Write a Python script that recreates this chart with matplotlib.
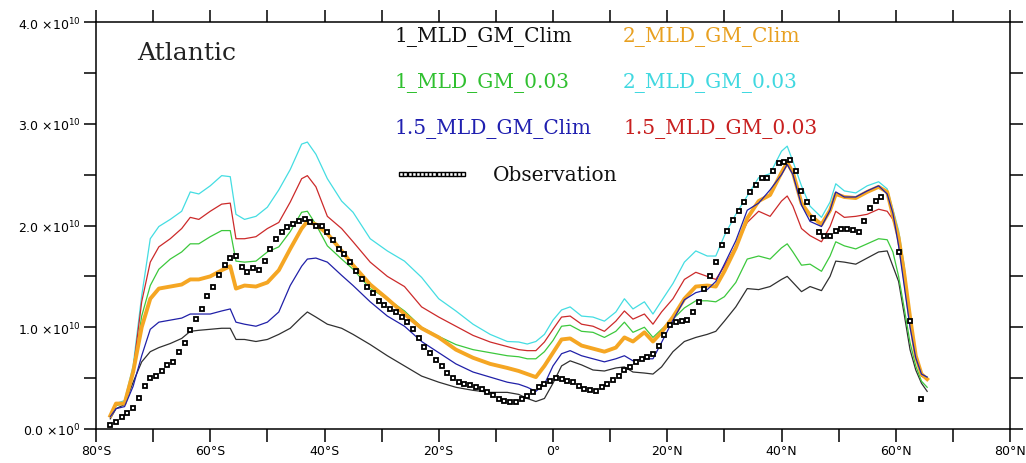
import numpy as np
import matplotlib
matplotlib.use('Agg')
import matplotlib.pyplot as plt

# --- data (values in units of 1e10) --- #

lat = [-77.5, -76.5, -75, -73.5, -72, -70.5, -69, -67, -65, -63.5,
       -62, -60, -58, -56.5, -55.5, -54, -52, -50, -48, -46,
       -44, -43, -41.5, -39.5, -37, -35, -32, -29, -26, -23,
       -20, -17, -14, -11, -8, -6, -4.5, -3, -1.5, 0,
       1.5, 3, 5, 7, 9, 11, 12.5, 14, 16, 17.5,
       19, 21, 23, 25, 27, 28.5, 30, 32, 34, 36,
       38, 40, 41, 42, 43.5, 45, 47, 48.5, 49.5, 51,
       53, 55, 57, 58.5, 59.5, 60.5, 61.5, 62.5, 63.5, 64.5,
       65.5]

mld1_clim = [0.10, 0.20, 0.24, 0.46, 0.66, 0.76, 0.80, 0.84, 0.89, 0.96,
             0.97, 0.98, 0.99, 0.99, 0.88, 0.88, 0.86, 0.88, 0.93, 0.99,
             1.10, 1.15, 1.10, 1.03, 0.99, 0.93, 0.83, 0.72, 0.62, 0.52,
             0.46, 0.41, 0.38, 0.36, 0.36, 0.34, 0.30, 0.27, 0.30, 0.45,
             0.62, 0.67, 0.63, 0.58, 0.57, 0.60, 0.61, 0.56, 0.55, 0.54,
             0.61, 0.76, 0.86, 0.90, 0.93, 0.96, 1.06, 1.20, 1.38, 1.37,
             1.40, 1.47, 1.50, 1.44, 1.35, 1.40, 1.36, 1.50, 1.65, 1.64,
             1.62, 1.68, 1.74, 1.75, 1.60, 1.45, 1.12, 0.78, 0.58, 0.45,
             0.37]

mld2_clim = [0.13, 0.25, 0.25, 0.56, 1.00, 1.28, 1.38, 1.40, 1.42, 1.47,
             1.47, 1.50, 1.56, 1.60, 1.38, 1.41, 1.40, 1.44, 1.56, 1.77,
             1.97, 2.04, 2.01, 1.92, 1.75, 1.61, 1.42, 1.28, 1.13, 0.99,
             0.90, 0.78, 0.70, 0.64, 0.60, 0.57, 0.54, 0.51, 0.62, 0.75,
             0.88, 0.89, 0.82, 0.79, 0.76, 0.80, 0.90, 0.86, 0.95, 0.86,
             0.95, 1.10, 1.28, 1.40, 1.41, 1.40, 1.55, 1.78, 2.07, 2.24,
             2.30, 2.52, 2.62, 2.52, 2.22, 2.10, 2.01, 2.15, 2.31, 2.28,
             2.27, 2.33, 2.38, 2.33, 2.10, 1.88, 1.52, 1.10, 0.72, 0.54,
             0.49]

mld1_003 = [0.13, 0.23, 0.25, 0.55, 1.11, 1.41, 1.57, 1.67, 1.74, 1.82,
            1.82, 1.89, 1.95, 1.95, 1.65, 1.64, 1.65, 1.74, 1.79, 1.94,
            2.13, 2.14, 2.01, 1.80, 1.67, 1.57, 1.38, 1.28, 1.16, 1.00,
            0.91, 0.83, 0.78, 0.75, 0.72, 0.71, 0.69, 0.69, 0.76, 0.87,
            1.01, 1.02, 0.96, 0.95, 0.90, 0.96, 1.05, 0.95, 1.00, 0.90,
            0.98, 1.08, 1.19, 1.26, 1.26, 1.25, 1.30, 1.44, 1.67, 1.70,
            1.67, 1.78, 1.82, 1.74, 1.61, 1.62, 1.55, 1.70, 1.84, 1.80,
            1.77, 1.82, 1.87, 1.86, 1.74, 1.50, 1.18, 0.85, 0.62, 0.47,
            0.41]

mld2_003 = [0.13, 0.25, 0.28, 0.62, 1.31, 1.87, 1.99, 2.06, 2.14, 2.33,
            2.31, 2.39, 2.49, 2.48, 2.11, 2.06, 2.09, 2.18, 2.35, 2.55,
            2.80, 2.82, 2.70, 2.46, 2.24, 2.13, 1.87, 1.75, 1.65, 1.49,
            1.28, 1.16, 1.03, 0.93, 0.86, 0.855, 0.835, 0.86, 0.93, 1.07,
            1.17, 1.20, 1.11, 1.10, 1.06, 1.15, 1.28, 1.18, 1.25, 1.13,
            1.26, 1.43, 1.64, 1.75, 1.70, 1.70, 1.90, 2.11, 2.29, 2.47,
            2.51, 2.73, 2.78, 2.63, 2.39, 2.19, 2.08, 2.23, 2.41, 2.34,
            2.32, 2.39, 2.43, 2.36, 2.16, 1.95, 1.60, 1.08, 0.72, 0.54,
            0.51]

mld15_clim = [0.12, 0.20, 0.22, 0.42, 0.72, 0.98, 1.05, 1.07, 1.09, 1.13,
              1.13, 1.13, 1.16, 1.18, 1.05, 1.03, 1.01, 1.05, 1.15, 1.41,
              1.60, 1.67, 1.68, 1.64, 1.51, 1.41, 1.25, 1.11, 1.01, 0.86,
              0.75, 0.64, 0.56, 0.51, 0.46, 0.44, 0.41, 0.37, 0.44, 0.62,
              0.74, 0.77, 0.72, 0.69, 0.66, 0.69, 0.72, 0.67, 0.69, 0.69,
              0.85, 1.07, 1.27, 1.34, 1.37, 1.45, 1.62, 1.85, 2.15, 2.22,
              2.35, 2.50, 2.60, 2.50, 2.20, 2.04, 1.99, 2.15, 2.33, 2.28,
              2.28, 2.34, 2.39, 2.31, 2.12, 1.80, 1.40, 1.00, 0.70, 0.54,
              0.51]

mld15_003 = [0.13, 0.24, 0.25, 0.58, 1.25, 1.64, 1.79, 1.87, 1.97, 2.08,
             2.06, 2.14, 2.21, 2.22, 1.87, 1.87, 1.89, 1.97, 2.03, 2.23,
             2.46, 2.49, 2.38, 2.09, 1.97, 1.84, 1.64, 1.50, 1.40, 1.20,
             1.10, 1.01, 0.92, 0.855, 0.81, 0.78, 0.77, 0.77, 0.855, 0.98,
             1.10, 1.11, 1.03, 1.01, 0.96, 1.06, 1.16, 1.08, 1.13, 1.03,
             1.15, 1.28, 1.47, 1.54, 1.50, 1.47, 1.60, 1.80, 2.03, 2.14,
             2.09, 2.24, 2.29, 2.19, 1.97, 1.90, 1.84, 1.99, 2.14, 2.08,
             2.09, 2.11, 2.16, 2.14, 2.06, 1.90, 1.57, 1.08, 0.72, 0.52,
             0.49]

# observations, one value per degree from 77.5S to 64.5N
obs_lat = np.arange(-77.5, 65.0, 1.0)
nan = np.nan
obs = [0.04, 0.07, 0.12, 0.16, 0.21, 0.30, 0.42, 0.50, 0.52, 0.57,
       0.63, 0.66, 0.76, 0.85, 0.97, 1.08, 1.18, 1.31, 1.40, 1.51,
       1.61, 1.68, 1.70, 1.59, 1.54, 1.58, 1.56, 1.65, 1.77, 1.87,
       1.94, 1.99, 2.01, 2.04, 2.06, 2.03, 2.00, 2.00, 1.94, 1.86,
       1.77, 1.72, 1.64, 1.55, 1.47, 1.40, 1.34, 1.26, 1.22, 1.18,
       1.15, 1.10, 1.05, 0.98, 0.89, 0.81, 0.75, 0.68, 0.62, 0.55,
       0.50, 0.46, 0.44, 0.43, 0.41, 0.39, 0.36, 0.33, 0.29, 0.28,
       0.27, 0.27, 0.29, 0.32, 0.36, 0.41, 0.44, 0.47, 0.50, 0.49,
       0.47, 0.46, 0.42, 0.39, 0.38, 0.37, 0.41, 0.44, 0.48, 0.52,
       0.58, 0.61, 0.66, 0.69, 0.71, 0.74, 0.82, 0.92, 1.02, 1.05,
       1.06, 1.07, 1.15, 1.25, 1.38, 1.50, 1.64, 1.81, 1.95, 2.05,
       2.14, 2.23, 2.33, 2.40, 2.47, 2.47, 2.54, 2.61, 2.62, 2.64,
       2.54, 2.34, 2.23, 2.07, 1.94, 1.90, 1.90, 1.95, 1.97, 1.97,
       1.96, 1.94, 2.04, 2.17, 2.24, 2.28, nan, nan, 1.74, nan,
       1.06, nan, 0.29]

x_ticks = list(range(-80, 81, 10))
x_labels = {-80: '80°S', -60: '60°S', -40: '40°S', -20: '20°S', 0: '0°',
            20: '20°N', 40: '40°N', 60: '60°N', 80: '80°N'}
y_ticks = [0, 0.5, 1, 1.5, 2, 2.5, 3, 3.5, 4]
y_labels = {0: r'0.0 $\times$10$^{0}$', 1: r'1.0 $\times$10$^{10}$',
            2: r'2.0 $\times$10$^{10}$', 3: r'3.0 $\times$10$^{10}$',
            4: r'4.0 $\times$10$^{10}$'}

# --- figure --- #

fig = plt.figure(figsize=(10.26, 4.64), dpi=100)
ax = fig.add_axes([96/1026, 1 - 430/464, 914/1026, 407/464])

c_black = '#303030'
c_orange = '#f5a623'
c_green = '#3cc83c'
c_cyan = '#44dde2'
c_blue = '#2020a8'
c_red = '#cc2a2a'

ax.plot(lat, mld1_clim, color=c_black, lw=0.9)
ax.plot(lat, mld1_003, color=c_green, lw=0.9)
ax.plot(lat, mld2_003, color=c_cyan, lw=0.9)
ax.plot(lat, mld15_003, color=c_red, lw=0.9)
ax.plot(lat, mld2_clim, color=c_orange, lw=2.8)
ax.plot(lat, mld15_clim, color=c_blue, lw=0.9)
ax.plot(obs_lat, obs, ls='none', marker='s', ms=3.4, mfc='white',
        mec='black', mew=1.3)

ax.set_xlim(-80, 80)
ax.set_ylim(0, 4)
ax.set_xticks(x_ticks)
ax.set_xticklabels([x_labels.get(t, '') for t in x_ticks])
ax.set_yticks(y_ticks)
ax.set_yticklabels([y_labels.get(t, '') for t in y_ticks])
ax.tick_params(direction='out', length=9, width=1.1, labelsize=9,
               top=True, right=True, pad=2)
for s in ax.spines.values():
    s.set_linewidth(1.1)

# labels / legend as text
ser = 'DejaVu Serif'
fs = 14.5
ax.text(0.045, 0.926, 'Atlantic', transform=ax.transAxes, family=ser,
        fontsize=18, va='center', color='#222222')
rows = [0.9656, 0.8526, 0.7396]
ax.text(0.327, rows[0], '1_MLD_GM_Clim', transform=ax.transAxes,
        family=ser, fontsize=fs, va='center', color='#111111')
ax.text(0.5766, rows[0], '2_MLD_GM_Clim', transform=ax.transAxes,
        family=ser, fontsize=fs, va='center', color='#e8a020')
ax.text(0.327, rows[1], '1_MLD_GM_0.03', transform=ax.transAxes,
        family=ser, fontsize=fs, va='center', color='#30c030')
ax.text(0.5766, rows[1], '2_MLD_GM_0.03', transform=ax.transAxes,
        family=ser, fontsize=fs, va='center', color='#40d8e0')
ax.text(0.327, rows[2], '1.5_MLD_GM_Clim', transform=ax.transAxes,
        family=ser, fontsize=fs, va='center', color='#2020b0')
ax.text(0.5766, rows[2], '1.5_MLD_GM_0.03', transform=ax.transAxes,
        family=ser, fontsize=fs, va='center', color='#c82020')

# observation legend sample
lx = np.linspace(0.334, 0.402, 16)
ax.plot(lx, [0.6265] * len(lx), transform=ax.transAxes, ls='-', lw=1.5,
        color='black', marker='s', ms=3, mfc='white', mec='black', mew=1.0,
        clip_on=False)
ax.text(0.4344, 0.6265, 'Observation', transform=ax.transAxes,
        family=ser, fontsize=fs, va='center', color='#111111')

fig.savefig('out.png', dpi=100)
